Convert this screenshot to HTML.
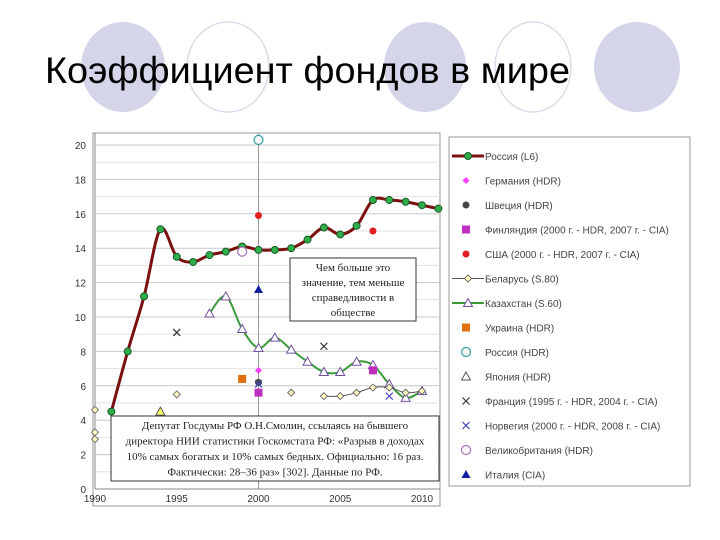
<!DOCTYPE html>
<html><head><meta charset="utf-8">
<style>
body{margin:0;background:#fff;width:720px;height:540px;overflow:hidden;font-family:"Liberation Sans",sans-serif}
svg{position:absolute;left:0;top:0}
</style></head>
<body>
<svg id="s" width="720" height="540" xmlns="http://www.w3.org/2000/svg">
<g>
<ellipse cx="123" cy="67" rx="42" ry="45" fill="#d5d5ea"/>
<ellipse cx="228" cy="67" rx="41" ry="45" fill="none" stroke="#dcdcea" stroke-width="1.5"/>
<ellipse cx="425" cy="67" rx="41" ry="45" fill="#d5d5ea"/>
<ellipse cx="533" cy="67" rx="38" ry="45" fill="none" stroke="#dcdcea" stroke-width="1.5"/>
<ellipse cx="637" cy="67" rx="43" ry="45" fill="#d5d5ea"/>
</g>
<text x="45" y="83" font-size="37" textLength="525" lengthAdjust="spacingAndGlyphs" fill="#000" font-family="Liberation Sans, sans-serif">Коэффициент фондов в мире</text>
<g id="chart"></g>
</svg>
<script>
const years = [1991,1992,1993,1994,1995,1996,1997,1998,1999,2000,2001,2002,2003,2004,2005,2006,2007,2008,2009,2010,2011];
const russiaL6 = [4.5,8.0,11.2,15.1,13.5,13.2,13.6,13.8,14.1,13.9,13.9,14.0,14.5,15.2,14.8,15.3,16.8,16.8,16.7,16.5,16.3];
const kazYears = [1997,1998,1999,2000,2001,2002,2003,2004,2005,2006,2007,2008,2009,2010];
const kazS60 = [10.2,11.2,9.3,8.2,8.8,8.1,7.4,6.8,6.8,7.4,7.2,6.1,5.3,5.7];
const belLineYears = [2004,2005,2006,2007,2008,2009,2010];
const belLine = [5.4,5.4,5.6,5.9,5.9,5.6,5.7];
const belPtYears = [1990,1990,1990,1995,2002];
const belPts = [4.6,3.3,2.9,5.5,5.6];
const yTicks = [0,2,4,6,8,10,12,14,16,18,20];
const xTicks = [1990,1995,2000,2005,2010];
// single-point series: [year, value]
const germany = [[2000,6.9]];
const sweden = [[2000,6.2]];
const finland = [[2000,5.6],[2007,6.9]];
const usa = [[2000,15.9],[2007,15.0]];
const ukraine = [[1999,6.4]];
const russiaHDR = [[2000,20.3]];
const japan = [[1994,4.5]];
const france = [[1995,9.1],[2004,8.3]];
const norway = [[2000,6.1],[2008,5.4]];
const uk = [[1999,13.8]];
const italy = [[2000,11.6]];

const NS="http://www.w3.org/2000/svg";
const g=document.getElementById('chart');
const X=v=>95+(v-1990)*16.35;
const Y=v=>489-v*17.2;
function el(t,a,p){const e=document.createElementNS(NS,t);for(const k in a)e.setAttribute(k,a[k]);(p||g).appendChild(e);return e;}
function smooth(xs,ys){const P=xs.map((x,i)=>[X(x),Y(ys[i])]);let d='M'+P[0];for(let i=0;i<P.length-1;i++){const p0=P[i-1]||P[i],p1=P[i],p2=P[i+1],p3=P[i+2]||p2;d+=' C'+(p1[0]+(p2[0]-p0[0])/6)+','+(p1[1]+(p2[1]-p0[1])/6)+' '+(p2[0]-(p3[0]-p1[0])/6)+','+(p2[1]-(p3[1]-p1[1])/6)+' '+p2[0]+','+p2[1];}return d;}

const fr=el('rect',{x:93,y:133,width:347,height:373,fill:'#fff',stroke:'#999'});


for(let v=1;v<=20.5;v+=1){const l=el('line',{x1:95,x2:440,y1:Y(v),y2:Y(v),stroke:v%2?'#e2e2e2':'#c8c8c8','stroke-width':1});

}
const vg=el('line',{x1:X(2000),x2:X(2000),y1:133,y2:489,stroke:'#999'});


el('line',{x1:95,x2:95,y1:133,y2:489,stroke:'#888'});
el('line',{x1:95,x2:440,y1:489,y2:489,stroke:'#888'});
yTicks.forEach(v=>{const t=el('text',{x:86,y:Y(v)+4,'font-size':10,'text-anchor':'end',fill:'#333'});t.textContent=v;

});
xTicks.forEach(v=>{const t=el('text',{x:X(v),y:502,'font-size':10,'text-anchor':'middle',fill:'#333'});t.textContent=v;

});

function box(x,y,w,h,lines,lh,name){const gg=el('g',{});


el('rect',{x,y,width:w,height:h,fill:'#fff',stroke:'#333'},gg);
lines.forEach((s,i)=>{const t=el('text',{x:x+w/2,y:y+13+i*lh,'font-size':11,'text-anchor':'middle','font-family':'Liberation Serif, serif',fill:'#222'},gg);t.textContent=s;});}
box(290,258,126,63,['Чем больше это','значение, тем меньше','справедливости в','обществе'],15,'note-box');
box(111,416,328,65,['Депутат Госдумы РФ О.Н.Смолин, ссылаясь на бывшего','директора НИИ статистики Госкомстата РФ: «Разрыв в доходах','10% самых богатых и 10% самых бедных. Официально: 16 раз.','Фактически: 28–36 раз» [302]. Данные по РФ.'],15.5,'quote-box');

function mk(type,x,y,c,name){let e;
if(type=='circle')e=el('circle',{cx:x,cy:y,r:3.5,fill:c.f,stroke:c.s||'none','stroke-width':1});
else if(type=='ring')e=el('circle',{cx:x,cy:y,r:4.5,fill:'#fff',stroke:c.s,'stroke-width':1.2});
else if(type=='sq')e=el('rect',{x:x-4,y:y-4,width:8,height:8,fill:c.f});
else if(type=='dia')e=el('path',{d:`M${x},${y-3.5}L${x+3.5},${y}L${x},${y+3.5}L${x-3.5},${y}Z`,fill:c.f,stroke:c.s||'none','stroke-width':0.8});
else if(type=='tri')e=el('path',{d:`M${x},${y-4.5}L${x+4.5},${y+3.5}L${x-4.5},${y+3.5}Z`,fill:c.f,stroke:c.s||'none','stroke-width':1});
else if(type=='x')e=el('path',{d:`M${x-3.5},${y-3.5}L${x+3.5},${y+3.5}M${x-3.5},${y+3.5}L${x+3.5},${y-3.5}`,stroke:c.s,'stroke-width':1.2});

return e;}

const rl=el('path',{d:smooth(years,russiaL6),fill:'none',stroke:'#7a1010','stroke-width':3});


years.forEach((y,i)=>mk('circle',X(y),Y(russiaL6[i]),{f:'#2eae4a',s:'#1a5a28'},'russia-l6-point'));
const kl=el('path',{d:smooth(kazYears,kazS60),fill:'none',stroke:'#3a9a3a','stroke-width':2});


kazYears.forEach((y,i)=>mk('tri',X(y),Y(kazS60[i]),{f:'#fff',s:'#7050a0'},'kazakhstan-point'));
const bl=el('path',{d:smooth(belLineYears,belLine),fill:'none',stroke:'#555','stroke-width':1});


belLineYears.forEach((y,i)=>mk('dia',X(y),Y(belLine[i]),{f:'#fff8c0',s:'#555'},'belarus-point'));
belPtYears.forEach((y,i)=>mk('dia',X(y),Y(belPts[i]),{f:'#fff8c0',s:'#555'},'belarus-point'));

const singles=[[germany,'dia',{f:'#ff40ff'},'germany'],[sweden,'circle',{f:'#444'},'sweden'],[finland,'sq',{f:'#c030c0'},'finland'],[usa,'circle',{f:'#e02020'},'usa'],[ukraine,'sq',{f:'#e07010'},'ukraine'],[russiaHDR,'ring',{s:'#30a0a0'},'russia-hdr'],[japan,'tri',{f:'#ffff60',s:'#555'},'japan'],[france,'x',{s:'#333'},'france'],[norway,'x',{s:'#4040c0'},'norway'],[uk,'ring',{s:'#b070c0'},'uk'],[italy,'tri',{f:'#1020a0'},'italy']];
singles.forEach(([arr,t,c,n])=>arr.forEach(([yr,v])=>mk(t,X(yr),Y(v),c,n+'-point')));

const lg=el('g',{});


el('rect',{x:449,y:137,width:241,height:349,fill:'#fff',stroke:'#999'},lg);
const legendLabels=['Россия (L6)','Германия (HDR)','Швеция (HDR)','Финляндия (2000 г. - HDR, 2007 г. - CIA)','США (2000 г. - HDR, 2007 г. - CIA)','Беларусь (S.80)','Казахстан (S.60)','Украина (HDR)','Россия (HDR)','Япония (HDR)','Франция (1995 г. - HDR, 2004 г. - CIA)','Норвегия (2000 г. - HDR, 2008 г. - CIA)','Великобритания (HDR)','Италия (CIA)'];
const lm=[['circle',{f:'#2eae4a',s:'#1a5a28'}],['dia',{f:'#ff40ff'}],['circle',{f:'#444'}],['sq',{f:'#c030c0'}],['circle',{f:'#e02020'}],['dia',{f:'#fff8c0',s:'#555'}],['tri',{f:'#fff',s:'#7050a0'}],['sq',{f:'#e07010'}],['ring',{s:'#30a0a0'}],['tri',{f:'#fff',s:'#555'}],['x',{s:'#333'}],['x',{s:'#4040c0'}],['ring',{s:'#b070c0'}],['tri',{f:'#1020a0'}]];
legendLabels.forEach((s,i)=>{const y=156+i*24.5;
if(i==0)el('line',{x1:452,x2:484,y1:y,y2:y,stroke:'#7a1010','stroke-width':3});
if(i==5)el('line',{x1:452,x2:484,y1:y,y2:y,stroke:'#555','stroke-width':1});
if(i==6)el('line',{x1:452,x2:484,y1:y,y2:y,stroke:'#3a9a3a','stroke-width':2});
mk(lm[i][0],(i==0||i==5||i==6)?468:466,y,lm[i][1],'legend-marker');
const t=el('text',{x:485,y:y+4,'font-size':10,fill:'#444'});t.textContent=s;

});
</script>
</body></html>
